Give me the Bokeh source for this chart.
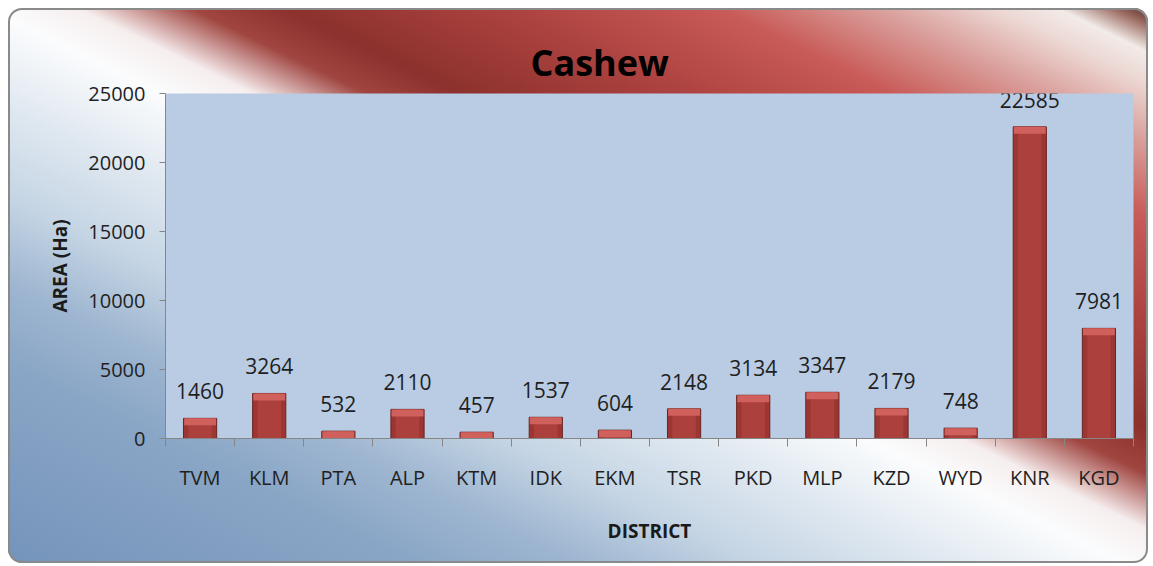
from bokeh.plotting import figure
from bokeh.models import Range1d, FixedTicker, ColumnDataSource, NumeralTickFormatter
from bokeh.embed import file_html
from bokeh.resources import INLINE
from bokeh.core.properties import value

districts = ["TVM", "KLM", "PTA", "ALP", "KTM", "IDK", "EKM",
             "TSR", "PKD", "MLP", "KZD", "WYD", "KNR", "KGD"]
area_ha = [1460, 3264, 532, 2110, 457, 1537, 604,
           2148, 3134, 3347, 2179, 748, 22585, 7981]
y_ticks = [0, 5000, 10000, 15000, 20000, 25000]
title_text = "Cashew"
x_label = "DISTRICT"
y_label = "AREA (Ha)"

FONT = value("Open Sans")
n = len(districts)
idx = list(range(n))
y_max = y_ticks[-1]

# bevel height for the 3D-ish bar top (style: ~7px in data units)
bevel_h = y_max * 7 / 345
src = ColumnDataSource(dict(
    x=idx,
    top=area_ha,
    bevel_bottom=[max(v - bevel_h, 0) for v in area_ha],
    label=[str(v) for v in area_ha],
))

p = figure(width=1140, height=555,
           x_range=Range1d(-0.5, n - 0.5), y_range=Range1d(0, y_max),
           output_backend="svg", toolbar_location=None,
           min_border_left=157, min_border_right=15,
           min_border_top=85, min_border_bottom=125)

p.styles = {
    "margin": "8px 0 0 8px",
    "background": ("linear-gradient(26deg, #7594bb 0%, #8aa6c6 18%, #9db5d0 25%, "
                   "#c5d5e4 33%, #dfe8f0 41%, #fbfcfd 49%, #f6eeee 53%, #a04540 58%, "
                   "#8c312d 62%, #ad4340 72%, #c85a57 81%, #daa09c 88%, #ecd6d2 93%, "
                   "#f2ebe8 96%, #9a6a60 98.5%, #5a2e25 100%)"),
    "border-radius": "14px",
    "box-shadow": "inset 0 0 0 2px #8a8a8a",
}
p.border_fill_color = None
p.background_fill_color = "#b9cce4"
p.outline_line_color = None
p.xgrid.visible = False
p.ygrid.visible = False

# bars
p.vbar(x="x", top="top", bottom=0, width=0.48, source=src,
       fill_color="#9c3632", line_color="#6b2420", line_width=1)
p.vbar(x="x", top="top", bottom=0, width=0.34, source=src,
       fill_color="#ac403c", line_color=None)
p.vbar(x="x", top="top", bottom="bevel_bottom", width=0.46, source=src,
       fill_color="#d0605b", line_color=None)

p.text(x="x", y="top", text="label", source=src, y_offset=-27,
       text_align="center", text_baseline="alphabetic",
       text_font=FONT, text_font_size="21px", text_color="#1f1f1f")

# title
p.title.text = title_text
p.title.text_font = "Open Sans"
p.title.text_font_size = "36px"
p.title.text_font_style = "bold"
p.title.text_color = "#000000"
p.title.align = "left"
p.title.offset = 365
p.title.standoff = 14

# x axis
xa = p.xaxis[0]
xa.ticker = FixedTicker(ticks=idx, minor_ticks=[i - 0.5 for i in range(n + 1)])
xa.major_label_overrides = {i: d for i, d in zip(idx, districts)}
xa.major_tick_out = 0
xa.major_tick_in = 0
xa.minor_tick_out = 8
xa.minor_tick_in = 0
xa.minor_tick_line_color = "#868686"
xa.axis_line_color = "#868686"
xa.major_label_standoff = 17
xa.major_label_text_font = "Open Sans"
xa.major_label_text_font_size = "20px"
xa.major_label_text_color = "#1f1f1f"
xa.axis_label = x_label
xa.axis_label_text_font = "Open Sans"
xa.axis_label_text_font_size = "19px"
xa.axis_label_text_font_style = "bold"
xa.axis_label_text_color = "#1a1a1a"
xa.axis_label_standoff = 24

# y axis
ya = p.yaxis[0]
ya.ticker = FixedTicker(ticks=y_ticks)
ya.formatter = NumeralTickFormatter(format="0")
ya.major_tick_out = 6
ya.major_tick_in = 0
ya.minor_tick_out = 0
ya.minor_tick_in = 0
ya.major_tick_line_color = "#868686"
ya.axis_line_color = "#868686"
ya.major_label_standoff = 14
ya.major_label_text_font = "Open Sans"
ya.major_label_text_font_size = "20px"
ya.major_label_text_color = "#1f1f1f"
ya.axis_label = y_label
ya.axis_label_text_font = "Open Sans"
ya.axis_label_text_font_size = "19px"
ya.axis_label_text_font_style = "bold"
ya.axis_label_text_color = "#1a1a1a"
ya.axis_label_standoff = 12

open("out.html", "w").write(file_html(p, INLINE))
